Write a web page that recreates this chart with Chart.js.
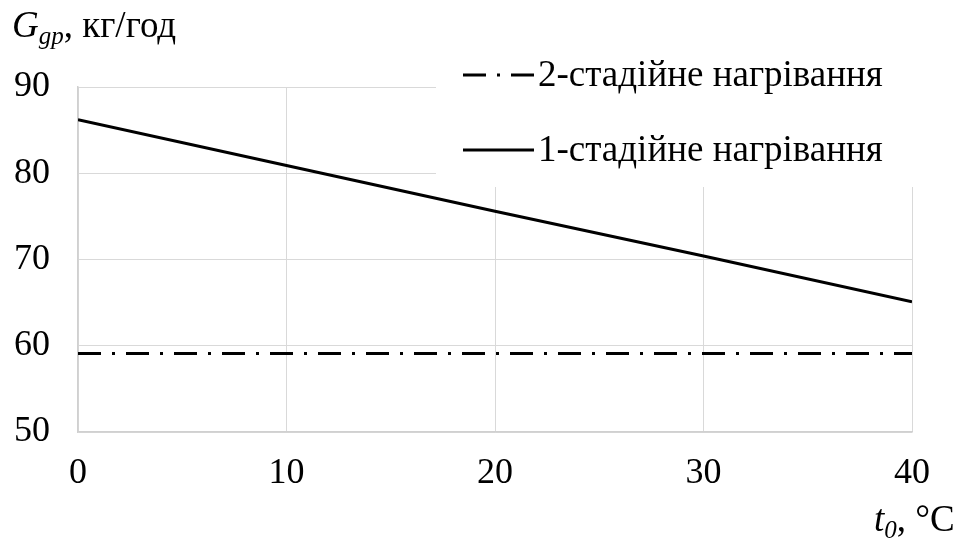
<!DOCTYPE html>
<html>
<head>
<meta charset="utf-8">
<script src="https://cdn.jsdelivr.net/npm/chart.js@4/dist/chart.umd.min.js"></script>
<style>
  html, body { margin: 0; padding: 0; background: #fff; }
  #wrap { width: 959px; height: 539px; position: relative; }
</style>
</head>
<body>
<div id="wrap"><canvas id="chart"></canvas></div>
<script>
const tempValues = [0, 10, 20, 30, 40];
const oneStage = [86.2, 80.9, 75.6, 70.4, 65.1];
const twoStage = [59.1, 59.1, 59.1, 59.1, 59.1];
const seriesNames = ['2-стадійне нагрівання', '1-стадійне нагрівання'];
const serif = '"Liberation Serif", "Times New Roman", serif';
const tickSize = 36;
const textSize = 37;

function toPoints(ys) {
  return tempValues.map((x, i) => ({ x: x, y: ys[i] }));
}

// legend box and axis titles drawn on top of the grid
const overlay = {
  id: 'overlay',
  afterDraw(chart) {
    const ctx = chart.ctx;
    const area = chart.chartArea;
    ctx.save();

    ctx.fillStyle = '#fff';
    ctx.fillRect(436, area.top - 2, 959 - 436, 187 - area.top + 2);

    ctx.font = textSize + 'px ' + serif;
    ctx.textBaseline = 'middle';
    ctx.fillStyle = '#000';
    const rows = [75, 150];
    chart.data.datasets.forEach((ds, i) => {
      const y = rows[i];
      ctx.strokeStyle = '#000';
      ctx.lineWidth = ds.borderWidth;
      ctx.setLineDash(ds.borderDash || []);
      ctx.beginPath();
      ctx.moveTo(463, y);
      ctx.lineTo(534, y);
      ctx.stroke();
      ctx.setLineDash([]);
      ctx.textAlign = 'left';
      ctx.fillText(ds.label, 538, y + 1);
    });

    // y title: G_gp, кг/год
    ctx.textBaseline = 'alphabetic';
    let x = 12;
    ctx.font = 'italic ' + textSize + 'px ' + serif;
    ctx.fillText('G', x, 37);
    x += ctx.measureText('G').width;
    ctx.font = 'italic 25px ' + serif;
    ctx.fillText('gp', x, 44);
    x += ctx.measureText('gp').width;
    ctx.font = textSize + 'px ' + serif;
    ctx.fillText(', кг/год', x, 37);

    // x title: t_0, °C
    x = 874;
    ctx.font = 'italic ' + textSize + 'px ' + serif;
    ctx.fillText('t', x, 531);
    x += ctx.measureText('t').width;
    ctx.font = 'italic 25px ' + serif;
    ctx.fillText('0', x, 538);
    x += ctx.measureText('0').width;
    ctx.font = textSize + 'px ' + serif;
    ctx.fillText(', °C', x, 531);

    ctx.restore();
  }
};

new Chart(document.getElementById('chart'), {
  type: 'line',
  data: {
    datasets: [
      {
        label: seriesNames[0],
        data: toPoints(twoStage),
        borderColor: '#000',
        borderWidth: 3,
        borderDash: [23, 11, 3, 11],
        pointRadius: 0,
        fill: false
      },
      {
        label: seriesNames[1],
        data: toPoints(oneStage),
        borderColor: '#000',
        borderWidth: 3,
        pointRadius: 0,
        fill: false
      }
    ]
  },
  options: {
    responsive: true,
    maintainAspectRatio: false,
    animation: false,
    events: [],
    layout: { padding: { left: 0, right: 47, top: 87, bottom: 0 } },
    plugins: {
      legend: { display: false },
      tooltip: { enabled: false }
    },
    scales: {
      x: {
        type: 'linear',
        min: 0,
        max: 40,
        afterFit(scale) { scale.height = 107; },
        ticks: {
          stepSize: 10,
          padding: 20,
          color: '#000',
          font: { family: serif, size: tickSize }
        },
        grid: { color: '#d9d9d9', lineWidth: 1, drawTicks: false },
        border: { color: '#d0d0d0', width: 1.5 }
      },
      y: {
        min: 50,
        max: 90,
        afterFit(scale) { scale.width = 78; },
        ticks: {
          stepSize: 10,
          padding: 28,
          color: '#000',
          font: { family: serif, size: tickSize }
        },
        grid: { color: '#d9d9d9', lineWidth: 1, drawTicks: false },
        border: { color: '#d0d0d0', width: 1.5 }
      }
    }
  },
  plugins: [overlay]
});
</script>
</body>
</html>
